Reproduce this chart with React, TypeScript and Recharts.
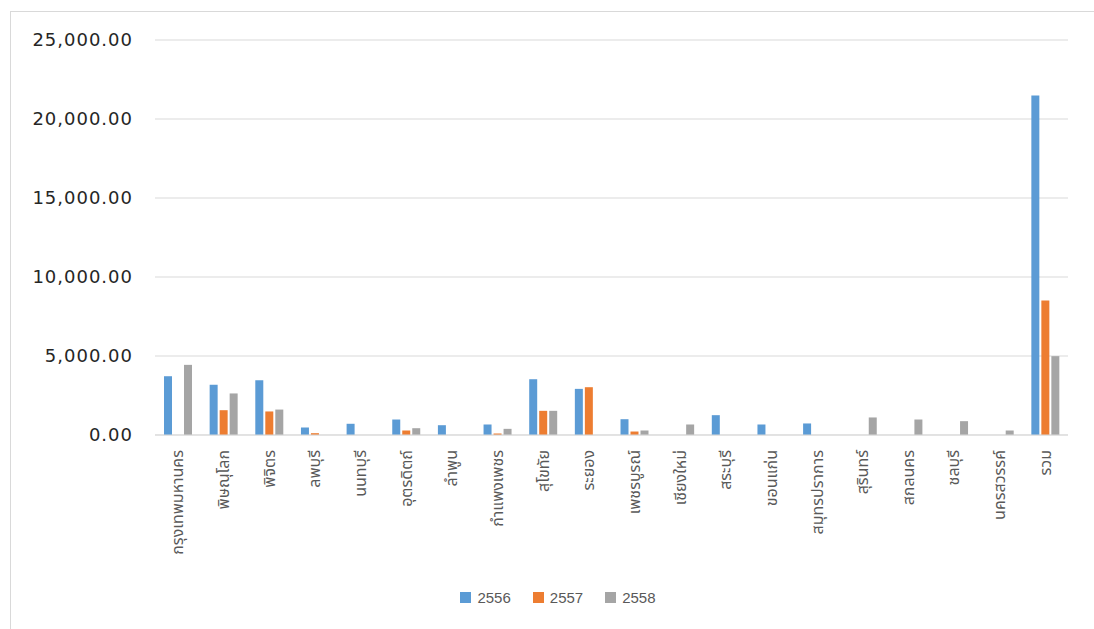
import { Bar, BarChart, CartesianGrid, Legend, XAxis, YAxis } from "recharts";

const provinces = [
  "กรุงเทพมหานคร",
  "พิษณุโลก",
  "พิจิตร",
  "ลพบุรี",
  "นนทบุรี",
  "อุตรดิตถ์",
  "ลำพูน",
  "กำแพงเพชร",
  "สุโขทัย",
  "ระยอง",
  "เพชรบูรณ์",
  "เชียงใหม่",
  "สระบุรี",
  "ขอนแก่น",
  "สมุทรปราการ",
  "สุรินทร์",
  "สกลนคร",
  "ชลบุรี",
  "นครสวรรค์",
  "รวม",
];

const values2556 = [3720, 3180, 3470, 475, 710, 980, 620, 665, 3530, 2920, 1000, 0, 1255, 665, 730, 0, 0, 0, 0, 21490];
const values2557 = [0, 1570, 1490, 115, 0, 285, 0, 95, 1530, 3025, 220, 0, 0, 0, 0, 0, 0, 0, 0, 8510];
const values2558 = [4440, 2630, 1610, 0, 0, 430, 0, 390, 1530, 0, 285, 665, 0, 0, 0, 1110, 980, 875, 285, 4990];

const yTicks = [0, 5000, 10000, 15000, 20000, 25000];

const series = [
  { key: "y2556", name: "2556", color: "#5B9BD5" },
  { key: "y2557", name: "2557", color: "#ED7D31" },
  { key: "y2558", name: "2558", color: "#A5A5A5" },
];

const data = provinces.map((name, i) => ({
  name,
  y2556: values2556[i],
  y2557: values2557[i],
  y2558: values2558[i],
}));

const thaiFont = "'Noto Sans Thai', 'Noto Sans', 'DejaVu Sans', sans-serif";

function ProvinceTick({ x, y, payload }: any) {
  return (
    <text
      x={x}
      y={y}
      transform={`rotate(-90, ${x}, ${y})`}
      textAnchor="end"
      dy="0.35em"
      fontSize={16}
      fill="#595959"
      fontFamily={thaiFont}
    >
      {payload.value}
    </text>
  );
}

function SeriesLegend() {
  return (
    <div
      style={{
        display: "flex",
        justifyContent: "center",
        alignItems: "center",
        height: 24,
        marginLeft: 70,
        marginBottom: 20,
        fontFamily: "'Liberation Sans', Arial, sans-serif",
        fontSize: 15,
        color: "#595959",
      }}
    >
      {series.map((s) => (
        <div key={s.key} style={{ display: "flex", alignItems: "center", marginRight: 22 }}>
          <span style={{ width: 11, height: 11, background: s.color, marginRight: 6 }} />
          <span>{s.name}</span>
        </div>
      ))}
    </div>
  );
}

export default function App() {
  return (
    <div style={{ position: "absolute", left: 0, top: 0, width: 1094, height: 629, background: "#fff" }}>
      <div
        style={{
          position: "absolute",
          left: 10,
          top: 11,
          width: 1084,
          height: 618,
          borderLeft: "1px solid #d9d9d9",
          borderTop: "1px solid #d9d9d9",
          boxSizing: "border-box",
        }}
      />
      <BarChart
        width={1094}
        height={629}
        data={data}
        margin={{ top: 40, right: 26, bottom: 0, left: 0 }}
        barSize={8}
        barGap={2}
      >
        <CartesianGrid vertical={false} stroke="#d9d9d9" />
        <XAxis
          dataKey="name"
          interval={0}
          height={150}
          tickLine={false}
          tickSize={0}
          tickMargin={15}
          stroke="#d9d9d9"
          tick={<ProvinceTick />}
        />
        <YAxis
          width={155}
          domain={[0, 25000]}
          ticks={yTicks}
          axisLine={false}
          tickLine={false}
          tickSize={0}
          tickMargin={22}
          tick={{ fontSize: 18, fill: "#262626", fontFamily: "'DejaVu Sans', sans-serif", letterSpacing: 1 }}
          tickFormatter={(v: number) =>
            v.toLocaleString("en-US", { minimumFractionDigits: 2, maximumFractionDigits: 2 })
          }
        />
        <Legend verticalAlign="bottom" height={44} content={<SeriesLegend />} />
        {series.map((s) => (
          <Bar key={s.key} dataKey={s.key} name={s.name} fill={s.color} isAnimationActive={false} />
        ))}
      </BarChart>
    </div>
  );
}
